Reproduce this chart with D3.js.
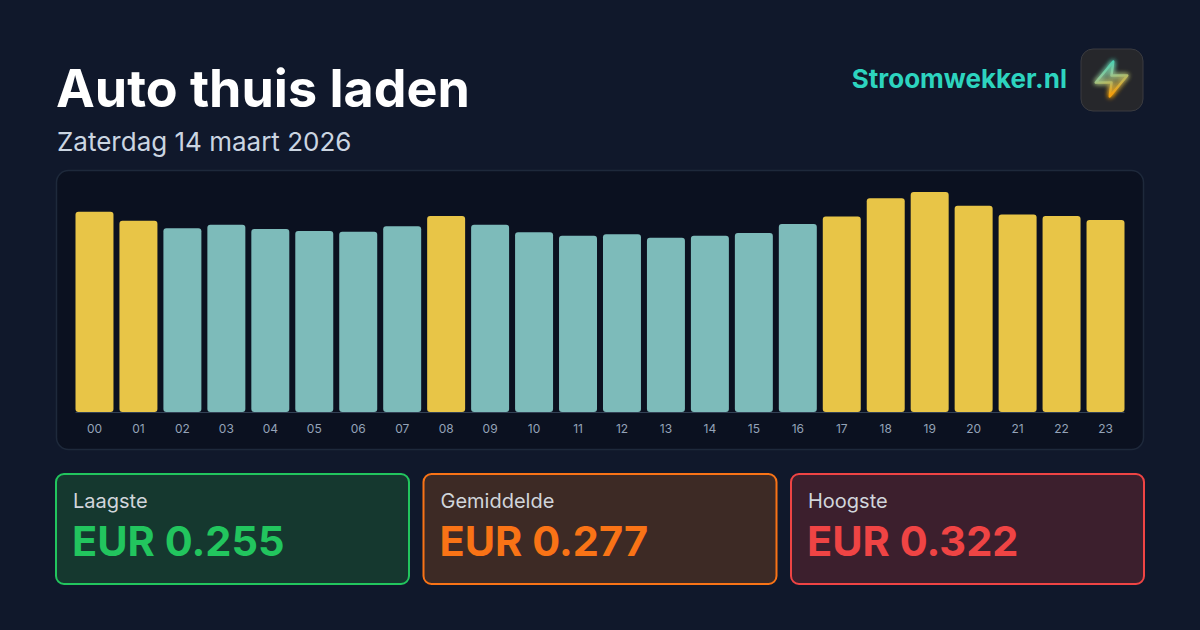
<!DOCTYPE html>
<html>
<head>
<meta charset="utf-8">
<script src="https://cdn.jsdelivr.net/npm/d3@7"></script>
<style>
  html, body { margin: 0; padding: 0; background: #10182b; }
  svg { display: block; font-family: Inter, "Noto Sans", sans-serif; }
</style>
</head>
<body>
<svg id="card"></svg>
<script>
// hourly prices, EUR per kWh
var hours = ["00", "01", "02", "03", "04", "05", "06", "07", "08", "09", "10", "11",
  "12", "13", "14", "15", "16", "17", "18", "19", "20", "21", "22", "23"];
var prices = [0.293, 0.280, 0.269, 0.274, 0.268, 0.265, 0.264, 0.272, 0.287, 0.274, 0.263, 0.258,
  0.260, 0.255, 0.258, 0.262, 0.275, 0.286, 0.313, 0.322, 0.302, 0.289, 0.287, 0.281];

var title = "Auto thuis laden";
var subtitle = "Zaterdag 14 maart 2026";
var brand = "Stroomwekker.nl";
var statLabels = ["Laagste", "Gemiddelde", "Hoogste"];

var cardSvg;

document.addEventListener("DOMContentLoaded", function () {
  cardSvg = d3.select("#card").attr("width", 1200).attr("height", 630);
  drawHeader();
  drawChart();
  drawStats();
});

function drawHeader() {
  var svg = cardSvg;

  svg.append("rect")
    .attr("width", 1200)
    .attr("height", 630)
    .style("fill", "#10182b");

  svg.append("text")
    .attr("x", 56)
    .attr("y", 107)
    .style("font-size", "52px")
    .style("font-weight", 700)
    .style("fill", "#ffffff")
    .text(title);

  svg.append("text")
    .attr("x", 57)
    .attr("y", 151)
    .style("font-size", "26px")
    .style("fill", "#cbd5e1")
    .text(subtitle);

  svg.append("text")
    .attr("x", 1067)
    .attr("y", 88)
    .attr("text-anchor", "end")
    .style("font-size", "26px")
    .style("font-weight", 700)
    .style("fill", "#2dd4bf")
    .text(brand);

  // logo tile with the bolt
  var defs = svg.append("defs");
  var grad = defs.append("linearGradient")
    .attr("id", "boltGrad")
    .attr("x1", 0).attr("y1", 0).attr("x2", 0.3).attr("y2", 1);
  grad.append("stop").attr("offset", "0%").attr("stop-color", "#2dd4bf");
  grad.append("stop").attr("offset", "45%").attr("stop-color", "#8fc99a");
  grad.append("stop").attr("offset", "100%").attr("stop-color", "#f59e0b");

  var glow = defs.append("filter").attr("id", "glow")
    .attr("x", "-50%").attr("y", "-50%").attr("width", "200%").attr("height", "200%");
  glow.append("feGaussianBlur").attr("stdDeviation", 2.5).attr("result", "b");
  var merge = glow.append("feMerge");
  merge.append("feMergeNode").attr("in", "b");
  merge.append("feMergeNode").attr("in", "b");
  merge.append("feMergeNode").attr("in", "SourceGraphic");

  var logo = svg.append("g").attr("transform", "translate(1081,49)");
  logo.append("rect")
    .attr("width", 62)
    .attr("height", 62)
    .attr("rx", 12)
    .style("fill", "#26272b")
    .style("stroke", "#3a3b40")
    .style("stroke-width", 1);

  var boltPts = [[13, 2], [3, 14], [12, 14], [11, 22], [21, 10], [12, 10]];
  var bolt = d3.line()
    .x(function (d) { return 9.5 + d[0] * 1.75; })
    .y(function (d) { return 9 + d[1] * 1.75; })
    .curve(d3.curveLinearClosed);

  logo.append("path")
    .attr("d", bolt(boltPts))
    .attr("filter", "url(#glow)")
    .style("fill", "url(#boltGrad)")
    .style("fill-opacity", 0.2)
    .style("stroke", "url(#boltGrad)")
    .style("stroke-width", 2.4)
    .style("stroke-linejoin", "round");
}

function drawChart() {
  var svg = cardSvg;
  var avg = d3.mean(prices);

  svg.append("rect")
    .attr("x", 56.5)
    .attr("y", 170.5)
    .attr("width", 1087)
    .attr("height", 279)
    .attr("rx", 12)
    .style("fill", "#0b1120")
    .style("stroke", "#1e293b")
    .style("stroke-width", 1.5);

  var x = d3.scaleBand()
    .domain(hours)
    .range([72.5, 1127.5])
    .paddingInner(0.136)
    .paddingOuter(0.068);

  var y = d3.scaleLinear()
    .domain([0, d3.max(prices)])
    .range([412, 192]);

  svg.append("g")
    .selectAll("rect")
    .data(prices)
    .enter()
    .append("rect")
    .attr("x", function (d, i) { return x(hours[i]); })
    .attr("y", function (d) { return y(d); })
    .attr("width", x.bandwidth())
    .attr("height", function (d) { return y(0) - y(d); })
    .attr("rx", 3)
    .style("fill", function (d) {
      return d > avg ? "#e8c547" : "#7dbbba";
    });

  svg.append("line")
    .attr("x1", x(hours[0]))
    .attr("x2", x(hours[hours.length - 1]) + x.bandwidth())
    .attr("y1", y(0) + 0.5)
    .attr("y2", y(0) + 0.5)
    .style("stroke", "#334155")
    .style("stroke-width", 1);

  var xAxis = svg.append("g")
    .attr("transform", "translate(0," + y(0) + ")")
    .call(d3.axisBottom(x).tickSize(0).tickPadding(12));
  xAxis.select(".domain").remove();
  xAxis.selectAll("text")
    .style("font-family", "Inter, sans-serif")
    .style("font-size", "12px")
    .style("fill", "#94a3b8");
}

function drawStats() {
  var svg = cardSvg;
  var stats = [d3.min(prices), d3.mean(prices), d3.max(prices)];
  var fills = ["#15382f", "#3d2a25", "#3c1f2d"];
  var colors = ["#22c55e", "#f97316", "#ef4444"];

  var cards = svg.append("g")
    .selectAll("g")
    .data(stats)
    .enter()
    .append("g")
    .attr("transform", function (d, i) {
      return "translate(" + (56 + i * 367.5) + ",474)";
    });

  cards.append("rect")
    .attr("width", 353)
    .attr("height", 110)
    .attr("rx", 8)
    .style("fill", function (d, i) { return fills[i]; })
    .style("stroke", function (d, i) { return colors[i]; })
    .style("stroke-width", 2);

  cards.append("text")
    .attr("x", 17)
    .attr("y", 34)
    .style("font-size", "20px")
    .style("fill", "#d1d5db")
    .text(function (d, i) { return statLabels[i]; });

  cards.append("text")
    .attr("x", 16)
    .attr("y", 82)
    .style("font-size", "41.5px")
    .style("font-weight", 700)
    .style("fill", function (d, i) { return colors[i]; })
    .text(function (d) { return "EUR " + d3.format(".3f")(d); });
}
</script>
</body>
</html>
